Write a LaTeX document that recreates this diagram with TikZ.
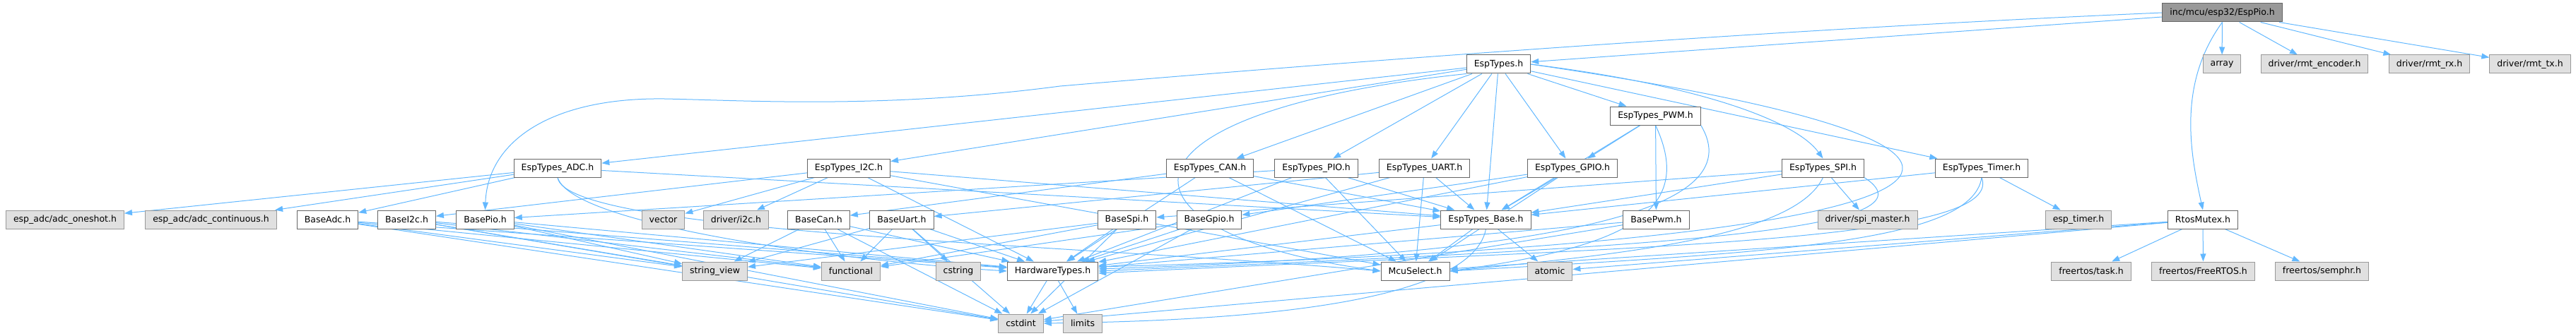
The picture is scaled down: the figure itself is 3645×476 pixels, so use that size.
\documentclass[tikz,border=0pt]{standalone}
\usepackage{fontspec}
\setmainfont{DejaVu Sans}
\usepackage{tikz}
\usetikzlibrary{arrows.meta,backgrounds}
\definecolor{edgeblue}{HTML}{63B8FF}
\definecolor{boxline}{HTML}{666666}
\definecolor{extfill}{HTML}{E0E0E0}
\definecolor{extline}{HTML}{999999}
\tikzset{
  hfile/.style={draw=boxline,fill=white,line width=1pt,inner xsep=10.5pt,inner ysep=0pt,minimum height=26pt},
  sysfile/.style={hfile,draw=extline,fill=extfill},
  rootfile/.style={hfile,draw=boxline,fill=extline},
  inc/.style={->,draw=edgeblue,line width=1pt},
}
\begin{document}
\begin{tikzpicture}[x=1pt,y=1pt,>={Triangle[length=11pt,width=8pt]},
   font=\fontsize{12.5}{15}\selectfont]
  \useasboundingbox (0,0) rectangle (3645,-476);
  % top rows
  \node[rootfile] (rt) at (3144.5,-18) {inc/mcu/esp32/EspPio.h};
  \node[hfile] (et) at (2120.5,-91) {EspTypes.h};
  \node[sysfile] (arr) at (3144,-91) {array};
  \node[sysfile] (renc) at (3275,-91) {driver/rmt\_encoder.h};
  \node[sysfile] (rrx) at (3437.5,-91) {driver/rmt\_rx.h};
  \node[sysfile] (rtx) at (3580,-91) {driver/rmt\_tx.h};
  \node[hfile] (pwm) at (2342.5,-164) {EspTypes\_PWM.h};
  % EspTypes_* row
  \node[hfile] (adc) at (789,-238) {EspTypes\_ADC.h};
  \node[hfile] (i2c) at (1201,-238) {EspTypes\_I2C.h};
  \node[hfile] (can) at (1712,-238) {EspTypes\_CAN.h};
  \node[hfile] (pio) at (1862.5,-238) {EspTypes\_PIO.h};
  \node[hfile] (uart) at (2015.5,-238) {EspTypes\_UART.h};
  \node[hfile] (gpio) at (2225,-238) {EspTypes\_GPIO.h};
  \node[hfile] (spi) at (2579.5,-238) {EspTypes\_SPI.h};
  \node[hfile] (tmr) at (2804,-238) {EspTypes\_Timer.h};
  % Base* row
  \node[sysfile] (oneshot) at (92,-311) {esp\_adc/adc\_oneshot.h};
  \node[sysfile] (cont) at (298.5,-311) {esp\_adc/adc\_continuous.h};
  \node[hfile] (badc) at (463.5,-311) {BaseAdc.h};
  \node[hfile] (bi2c) at (575.5,-311) {BaseI2c.h};
  \node[hfile] (bpio) at (686.5,-311) {BasePio.h};
  \node[sysfile] (vec) at (938.5,-311) {vector};
  \node[sysfile] (i2cd) at (1041.5,-311) {driver/i2c.h};
  \node[hfile] (bcan) at (1158.5,-311) {BaseCan.h};
  \node[hfile] (buart) at (1276,-311) {BaseUart.h};
  \node[hfile] (bspi) at (1594.5,-311) {BaseSpi.h};
  \node[hfile] (bgpio) at (1711,-311) {BaseGpio.h};
  \node[hfile] (base) at (2102.5,-311) {EspTypes\_Base.h};
  \node[hfile] (bpwm) at (2343.5,-311) {BasePwm.h};
  \node[sysfile] (spim) at (2642.5,-311) {driver/spi\_master.h};
  \node[sysfile] (esptm) at (2941,-311) {esp\_timer.h};
  \node[hfile] (mtx) at (3117,-311) {RtosMutex.h};
  % bottom rows
  \node[sysfile] (sv) at (1011.5,-384) {string\_view};
  \node[sysfile] (func) at (1204,-384) {functional};
  \node[sysfile] (cstr) at (1356,-384) {cstring};
  \node[hfile] (hw) at (1489.5,-384) {HardwareTypes.h};
  \node[hfile] (mcu) at (2002.5,-384) {McuSelect.h};
  \node[sysfile] (atom) at (2193,-384) {atomic};
  \node[sysfile] (task) at (2959,-384) {freertos/task.h};
  \node[sysfile] (frt) at (3117.5,-384) {freertos/FreeRTOS.h};
  \node[sysfile] (semp) at (3285.5,-384) {freertos/semphr.h};
  \node[sysfile] (cint) at (1444.5,-458) {cstdint};
  \node[sysfile] (lim) at (1532,-458) {limits};
  \begin{scope}[on background layer]
  \draw[inc] (rt)--(et); \draw[inc] (rt)--(arr); \draw[inc] (rt)--(renc);
  \draw[inc] (rt)--(rrx); \draw[inc] (rt)--(rtx);
  \draw[inc] (rt.south) .. controls (3080,-120) and (3100,-220) .. (mtx.north);
  \draw[inc] (rt.west) .. controls (2500,-42) and (1900,-88) .. (1500,-122)
     .. controls (1250,-155) and (1050,-142) .. (940,-140)
     .. controls (780,-138) and (690,-200) .. (bpio.north);
  \draw[inc] (et)--(adc); \draw[inc] (et)--(i2c); \draw[inc] (et)--(can);
  \draw[inc] (et)--(pio); \draw[inc] (et)--(uart); \draw[inc] (et)--(base);
  \draw[inc] (et)--(gpio); \draw[inc] (et)--(pwm); \draw[inc] (et)--(tmr);
  \draw[inc] (et.east) .. controls (2400,-120) and (2540,-170) .. (spi.north);
  \draw[inc] (et.south west) .. controls (1550,-160) and (1560,-330) .. (mcu.west);
  \draw[inc] (et.east) .. controls (3050,-220) and (2800,-345) .. ([yshift=6pt]hw.east);
  \draw[inc] (pwm)--(gpio); \draw[inc] (pwm)--(base); \draw[inc] (pwm)--(bpwm);
  \draw[inc] (pwm.south) .. controls (2400,-300) and (2300,-350) .. (mcu.east);
  \draw[inc] (pwm.south east) .. controls (2480,-300) and (2200,-360) .. ([yshift=3pt]hw.east);
  \draw[inc] (adc)--(oneshot); \draw[inc] (adc)--(cont); \draw[inc] (adc)--(badc);
  \draw[inc] (adc)--(base);
  \draw[inc] (adc.south) .. controls (800,-330) and (1500,-345) .. (mcu.west);
  \draw[inc] (adc.south) .. controls (810,-320) and (1200,-370) .. (hw.west);
  \draw[inc] (i2c)--(vec); \draw[inc] (i2c)--(i2cd); \draw[inc] (i2c)--(bi2c);
  \draw[inc] (i2c)--(hw); \draw[inc] (i2c)--(base); \draw[inc] (i2c)--(mcu);
  \draw[inc] (can)--(bcan); \draw[inc] (can)--(hw); \draw[inc] (can)--(base);
  \draw[inc] (can)--(mcu);
  \draw[inc] (pio)--(bpio); \draw[inc] (pio)--(base); \draw[inc] (pio)--(mcu);
  \draw[inc] (pio)--(hw);
  \draw[inc] (uart)--(buart); \draw[inc] (uart)--(base); \draw[inc] (uart)--(mcu);
  \draw[inc] (uart)--(hw);
  \draw[inc] (gpio)--(bgpio); \draw[inc] (gpio)--(base); \draw[inc] (gpio)--(mcu);
  \draw[inc] (gpio)--(hw);
  \draw[inc] (spi)--(bspi); \draw[inc] (spi)--(base); \draw[inc] (spi)--(spim);
  \draw[inc] (spi.south) .. controls (2540,-335) and (2300,-360) .. (mcu.east);
  \draw[inc] (spi.south east) .. controls (2760,-330) and (2300,-352) .. (hw.east);
  \draw[inc] (tmr)--(base); \draw[inc] (tmr)--(esptm);
  \draw[inc] (tmr.south) .. controls (2790,-345) and (2500,-358) .. (mcu.east);
  \draw[inc] (tmr.south) .. controls (2840,-345) and (2300,-350) .. ([yshift=-3pt]hw.east);
  \draw[inc] (base)--(mcu); \draw[inc] (base)--(atom); \draw[inc] (base)--(hw);
  \draw[inc] (base.south) .. controls (2080,-440) and (1700,-455) .. (cint.east);
  \draw[inc] (badc)--(sv); \draw[inc] (badc)--(func); \draw[inc] (badc)--(hw);
  \draw[inc] (badc)--(cint);
  \draw[inc] (bi2c)--(sv); \draw[inc] (bi2c)--(func); \draw[inc] (bi2c)--(hw);
  \draw[inc] (bi2c)--(cint);
  \draw[inc] (bpio)--(sv); \draw[inc] (bpio)--(func); \draw[inc] (bpio)--(hw);
  \draw[inc] (bpio)--(cint);
  \draw[inc] (bcan)--(sv); \draw[inc] (bcan)--(func); \draw[inc] (bcan)--(hw);
  \draw[inc] (bcan)--(cint);
  \draw[inc] (buart)--(sv); \draw[inc] (buart)--(func); \draw[inc] (buart)--(cstr);
  \draw[inc] (buart)--(hw); \draw[inc] (buart)--(cint);
  \draw[inc] (bspi)--(sv); \draw[inc] (bspi)--(func); \draw[inc] (bspi)--(hw);
  \draw[inc] (bspi)--(cint);
  \draw[inc] (bgpio)--(func); \draw[inc] (bgpio)--(hw); \draw[inc] (bgpio)--(cint);
  \draw[inc] (bpwm)--(hw); \draw[inc] (bpwm)--(cint);
  \draw[inc] (hw)--(cint); \draw[inc] (hw)--(lim);
  \draw[inc] (mtx)--(task); \draw[inc] (mtx)--(frt); \draw[inc] (mtx)--(semp);
  \draw[inc] (mtx)--(mcu); \draw[inc] (mtx)--(atom); \draw[inc] (mtx)--(cint);
  \end{scope}
\end{tikzpicture}
\end{document}
